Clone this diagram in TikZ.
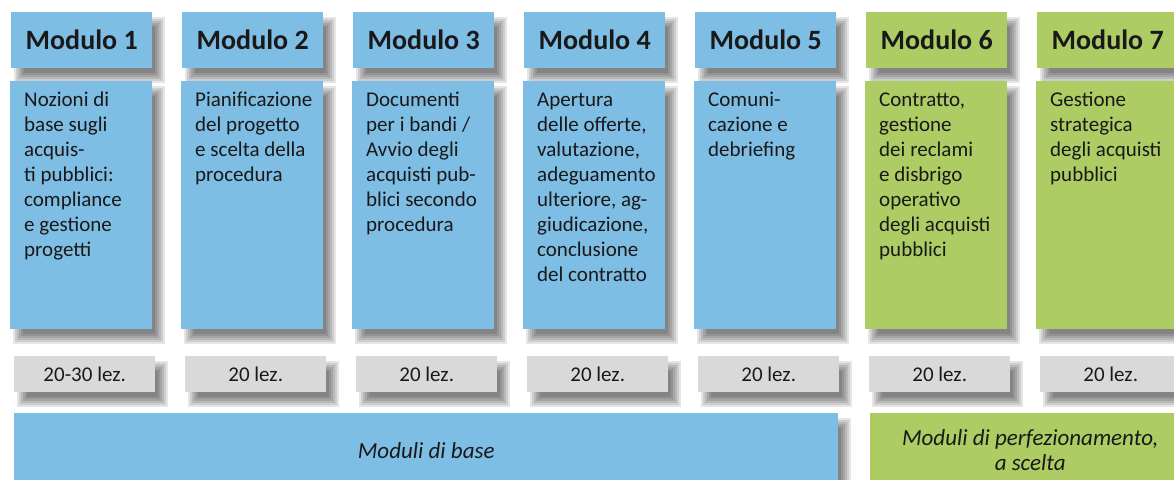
\documentclass[tikz,border=0pt]{standalone}
\usepackage{fontspec}
\setmainfont{Carlito}
\definecolor{mblue}{RGB}{127,190,228}
\definecolor{mgreen}{RGB}{173,204,100}
\definecolor{mgray}{RGB}{217,217,217}
\definecolor{mtext}{RGB}{25,25,25}
\pgfdeclarelayer{bgwhite}
\pgfdeclarelayer{shadowlayer}
\pgfsetlayers{bgwhite,shadowlayer,main}
\tikzset{
  hdr/.style={anchor=north west, inner sep=0, minimum width=141pt, minimum height=56pt, font=\fontsize{28}{34}\selectfont\bfseries, text=mtext},
  bodybox/.style={anchor=north west, inner sep=0, minimum width=142pt, minimum height=248pt},
  bodytxt/.style={anchor=base west, inner sep=0, text=mtext},
  lezbox/.style={anchor=north west, inner sep=0, minimum width=141pt, minimum height=36pt, fill=mgray, font=\fontsize{21}{25}\selectfont, text=mtext},
  barbox/.style={anchor=north west, inner sep=0, minimum height=74pt, font=\fontsize{23}{25.5}\selectfont\itshape, text=mtext, align=center},
  shadowpiece/.style={fill=black, opacity=0.1},
}
\newcommand{\bodylines}[1]{\parbox[t]{145pt}{\raggedright\fontsize{21}{25}\selectfont #1}}
\newcommand{\softshadow}[1]{%
  \begin{pgfonlayer}{shadowlayer}
  \foreach \s in {-5,-3,-1,1,3,5}{
    \fill[shadowpiece] ([xshift=8pt+\s pt,yshift=-10pt+\s pt]#1.south west) rectangle ([xshift=8pt-\s pt,yshift=-10pt-\s pt]#1.north east);
  }
  \end{pgfonlayer}}
\begin{document}
\begin{tikzpicture}[x=1pt,y=-1pt]
\begin{pgfonlayer}{bgwhite}
\fill[white] (0,0) rectangle (1174,479);
\end{pgfonlayer}
\useasboundingbox (0,0) rectangle (1174,479);
% headers, bodies, lesson boxes
\foreach \i/\c in {1/mblue,2/mblue,3/mblue,4/mblue,5/mblue,6/mgreen,7/mgreen}{
  \pgfmathsetmacro{\L}{11+171*(\i-1)}
  \node[hdr, fill=\c] (h\i) at (\L,12) {Modulo \i};
  \node[bodybox, fill=\c] (b\i) at (\L-1,81) {};
  \node[lezbox] (z\i) at (\L+3,356) {\ifnum\i=1 20-30 lez.\else 20 lez.\fi};
  \softshadow{h\i}
  \softshadow{b\i}
  \softshadow{z\i}
}
\node[bodytxt] (t1) at ([xshift=14pt,yshift=-25pt]b1.north west) {\bodylines{Nozioni di\\base sugli\\acquis-\\ti pubblici:\\compliance\\e gestione\\progetti}};
\node[bodytxt] (t2) at ([xshift=14pt,yshift=-25pt]b2.north west) {\bodylines{Pianificazione\\del progetto\\e scelta della\\procedura}};
\node[bodytxt] (t3) at ([xshift=14pt,yshift=-25pt]b3.north west) {\bodylines{Documenti\\per i bandi /\\Avvio degli\\acquisti pub-\\blici secondo\\procedura}};
\node[bodytxt] (t4) at ([xshift=14pt,yshift=-25pt]b4.north west) {\bodylines{Apertura\\delle offerte,\\valutazione,\\adeguamento\\ulteriore, ag-\\giudicazione,\\conclusione\\del contratto}};
\node[bodytxt] (t5) at ([xshift=14pt,yshift=-25pt]b5.north west) {\bodylines{Comuni-\\cazione e\\debriefing}};
\node[bodytxt] (t6) at ([xshift=14pt,yshift=-25pt]b6.north west) {\bodylines{Contratto,\\gestione\\dei reclami\\e disbrigo\\operativo\\degli acquisti\\pubblici}};
\node[bodytxt] (t7) at ([xshift=14pt,yshift=-25pt]b7.north west) {\bodylines{Gestione\\strategica\\degli acquisti\\pubblici}};
% bars
\node[barbox, fill=mblue, minimum width=824pt] (base) at (14,413) {Moduli di base};
\node[barbox, fill=mgreen, minimum width=320pt] (perf) at (870,413) {Moduli di perfezionamento,\\a scelta};
\softshadow{base}
\softshadow{perf}
\end{tikzpicture}
\end{document}
